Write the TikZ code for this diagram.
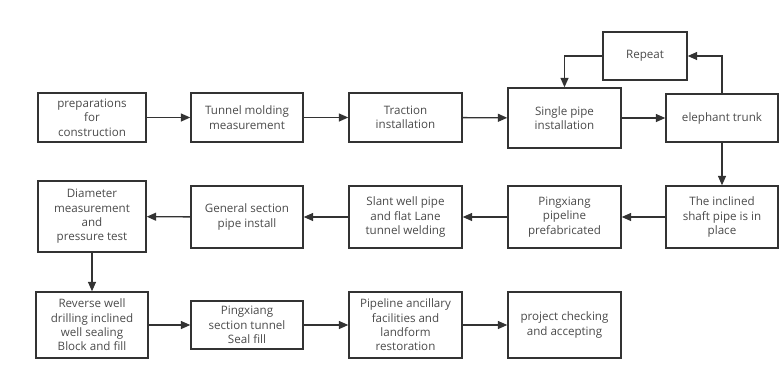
\documentclass[tikz,border=0pt]{standalone}
\usepackage{fontspec}
\setmainfont{Open Sans}
\usetikzlibrary{arrows.meta}
\definecolor{txt}{HTML}{4A4A4A}
\definecolor{ln}{HTML}{333333}
\begin{document}
\begin{tikzpicture}[x=1pt,y=-1pt,
  box/.style={draw=ln,line width=1.4pt,text=txt,align=center,inner sep=0pt,
    font=\fontsize{11.6}{14.3}\selectfont},
  arr/.style={draw=ln,line width=1.4pt,-{Triangle[length=9.5pt,width=8pt]}}]
\useasboundingbox (0,0) rectangle (780,368);
\node[box,minimum width=108pt,minimum height=49pt] (prep) at (92,117.5) {preparations\\for\\construction};
\node[box,minimum width=112pt,minimum height=49pt] (tunnel) at (247,117.5) {Tunnel molding\\measurement};
\node[box,minimum width=113pt,minimum height=49pt] (traction) at (405.5,117.5) {Traction\\installation};
\node[box,minimum width=113pt,minimum height=60pt] (single) at (564.5,118) {Single pipe\\installation};
\node[box,minimum width=112pt,minimum height=48pt] (eleph) at (722,118) {elephant trunk};
\node[box,minimum width=84pt,minimum height=48pt] (repeat) at (645,56) {Repeat};
\node[box,minimum width=108pt,minimum height=71pt] (diam) at (92,216.5) {Diameter\\measurement\\and\\pressure test};
\node[box,minimum width=112pt,minimum height=62pt] (general) at (247,217) {General section\\pipe install};
\node[box,minimum width=113pt,minimum height=62pt] (slant) at (405.5,217) {Slant well pipe\\and flat Lane\\tunnel welding};
\node[box,minimum width=113pt,minimum height=62pt] (pingp) at (564.5,217) {Pingxiang\\pipeline\\prefabricated};
\node[box,minimum width=112pt,minimum height=62pt] (incl) at (722,217) {The inclined\\shaft pipe is in\\place};
\node[box,minimum width=112pt,minimum height=66pt] (reverse) at (92,325) {Reverse well\\drilling inclined\\well sealing\\Block and fill};
\node[box,minimum width=112pt,minimum height=48pt] (pingsec) at (247,325) {Pingxiang\\section tunnel\\Seal fill};
\node[box,minimum width=113pt,minimum height=66pt] (ancill) at (405.5,325) {Pipeline ancillary\\facilities and\\landform\\restoration};
\node[box,minimum width=113pt,minimum height=66pt] (check) at (564.5,325) {project checking\\and accepting};
\draw[arr] (prep) -- (tunnel);
\draw[arr] (tunnel) -- (traction);
\draw[arr] (traction) -- (single);
\draw[arr] (single) -- (eleph);
\draw[arr] (eleph.north) |- (repeat.east);
\draw[arr] (repeat.west) -| (single.north);
\draw[arr] (eleph) -- (incl);
\draw[arr] (incl) -- (pingp);
\draw[arr] (pingp) -- (slant);
\draw[arr] (slant) -- (general);
\draw[arr] (general) -- (diam);
\draw[arr] (diam) -- (reverse);
\draw[arr] (reverse) -- (pingsec);
\draw[arr] (pingsec) -- (ancill);
\draw[arr] (ancill) -- (check);
\end{tikzpicture}
\end{document}
